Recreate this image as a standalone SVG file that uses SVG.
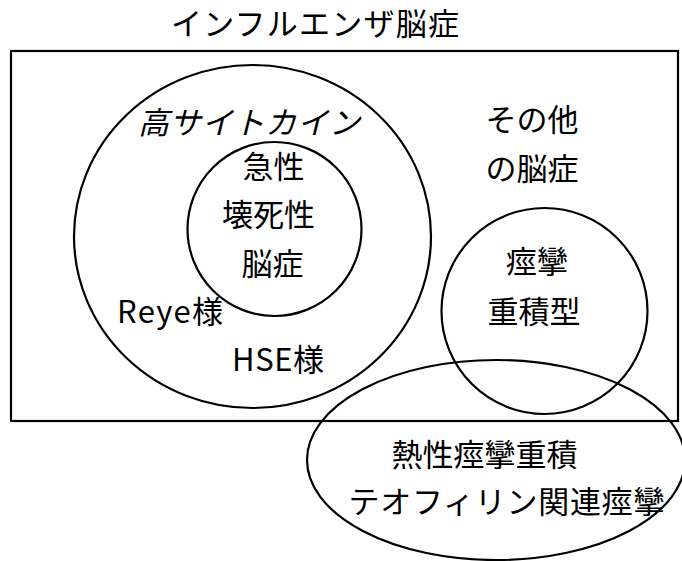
<svg xmlns="http://www.w3.org/2000/svg" width="682" height="561" viewBox="0 0 682 561">
<style>
.shape{fill:none;stroke:#000;stroke-width:2.2}
text{font-family:"Noto Sans CJK JP","Noto Sans",sans-serif;fill:#000;font-size:31px}
.c{text-anchor:middle}
</style>
<rect width="682" height="561" fill="#fff"/>
<g id="title"><text class="c" x="315" y="35" font-size="27" textLength="288" lengthAdjust="spacing">インフルエンザ脳症</text></g>
<g id="influenza-encephalopathy"><rect class="shape" x="11" y="51" width="667" height="370"/></g>
<g id="high-cytokine">
<ellipse class="shape" cx="252.5" cy="236.5" rx="178.5" ry="171.5"/>
<text class="c" x="249" y="134" font-style="italic" textLength="222" lengthAdjust="spacing">高サイトカイン</text>
<text x="117" y="323" textLength="106" lengthAdjust="spacing">Reye様</text>
<text x="232" y="371" textLength="92" lengthAdjust="spacing">HSE様</text>
</g>
<g id="ane">
<circle class="shape" cx="274.5" cy="229" r="87"/>
<text class="c" x="273.5" y="178">急性</text>
<text class="c" x="268.5" y="226">壊死性</text>
<text class="c" x="272.5" y="275">脳症</text>
</g>
<g id="other">
<text class="c" x="532" y="131">その他</text>
<text class="c" x="532" y="180">の脳症</text>
</g>
<g id="status-type">
<circle class="shape" cx="544.5" cy="311" r="103"/>
<text class="c" x="537" y="273">痙攣</text>
<text class="c" x="534" y="323">重積型</text>
</g>
<g id="febrile">
<ellipse class="shape" cx="496" cy="460" rx="189" ry="100"/>
<text class="c" x="484.5" y="466">熱性痙攣重積</text>
<text class="c" x="506.5" y="513" textLength="316" lengthAdjust="spacing">テオフィリン関連痙攣</text>
</g>
<g id="connectors"></g>
</svg>
